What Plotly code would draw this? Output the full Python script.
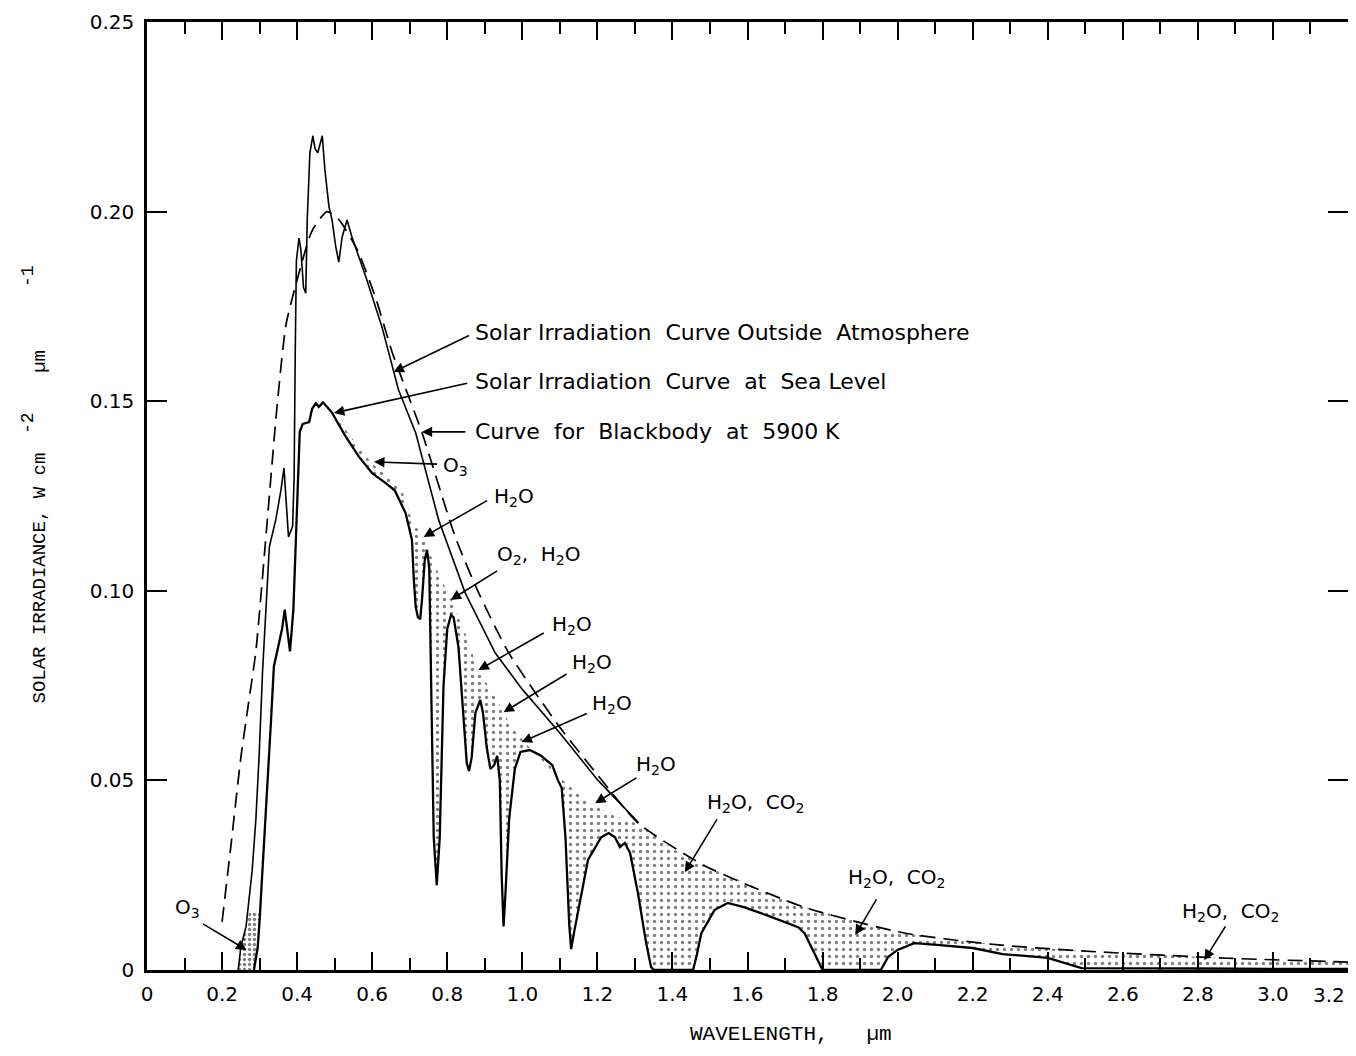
import numpy as np
import plotly.graph_objects as go

# ---------------------------------------------------------------------------
# Data (wavelength um, irradiance W cm-2 um-1)
# ---------------------------------------------------------------------------
bb_x = [0.20, 0.225, 0.25, 0.27, 0.29, 0.32, 0.345, 0.37, 0.40, 0.44, 0.48, 0.51,
        0.56, 0.61, 0.653, 0.733, 0.822, 0.884, 0.964, 1.10, 1.20, 1.308, 1.486,
        1.75, 2.02, 2.27, 2.53, 2.88, 3.20]
bb_y = [0.0127, 0.034, 0.056, 0.070, 0.084, 0.118, 0.147, 0.170, 0.182, 0.195, 0.200,
        0.198, 0.190, 0.177, 0.163, 0.1416, 0.114, 0.0994, 0.0836, 0.064, 0.0515,
        0.0388, 0.0275, 0.0166, 0.0097, 0.0066, 0.0048, 0.0031, 0.0021]

out_x = [0.243, 0.25, 0.264, 0.28, 0.29, 0.299, 0.308, 0.317, 0.326, 0.343, 0.357,
         0.365, 0.371, 0.377, 0.388, 0.392, 0.395, 0.398, 0.405, 0.41, 0.417, 0.423,
         0.427, 0.434, 0.442, 0.448, 0.455, 0.461, 0.467, 0.474, 0.485, 0.493, 0.503,
         0.511, 0.52, 0.533, 0.546, 0.583, 0.626, 0.67, 0.716, 0.777, 0.848, 0.928,
         1.00, 1.10, 1.20, 1.31]
out_y = [0.0, 0.006, 0.0115, 0.026, 0.0396, 0.057, 0.079, 0.0968, 0.1116, 0.1187,
         0.1266, 0.1324, 0.122, 0.1142, 0.117, 0.130, 0.163, 0.187, 0.193, 0.190,
         0.180, 0.1785, 0.198, 0.2155, 0.220, 0.2165, 0.2155, 0.218, 0.220, 0.211,
         0.2012, 0.1978, 0.1907, 0.1867, 0.1933, 0.1978, 0.1933, 0.1828, 0.1696,
         0.153, 0.1416, 0.1187, 0.0994, 0.0836, 0.074, 0.0625, 0.0502, 0.0388]

sea_x = [0.285, 0.295, 0.30, 0.31, 0.32, 0.33, 0.338, 0.35, 0.36, 0.367, 0.374, 0.381,
         0.39, 0.398, 0.403, 0.407, 0.415, 0.432, 0.44, 0.45, 0.458, 0.469, 0.48,
         0.493, 0.51, 0.53, 0.565, 0.60, 0.636, 0.66, 0.689, 0.706, 0.711, 0.716,
         0.722, 0.728, 0.733, 0.74, 0.746, 0.752, 0.758, 0.764, 0.772, 0.78, 0.79,
         0.80, 0.81, 0.817, 0.83, 0.843, 0.852, 0.858, 0.865, 0.875, 0.888, 0.895,
         0.905, 0.915, 0.925, 0.933, 0.94, 0.945, 0.95, 0.955, 0.965, 0.98, 0.995,
         1.02, 1.05, 1.08, 1.095, 1.105, 1.115, 1.125, 1.13, 1.138, 1.149, 1.175,
         1.21, 1.23, 1.247, 1.26, 1.273, 1.287, 1.308, 1.33, 1.343, 1.35, 1.455,
         1.465, 1.477, 1.512, 1.547, 1.59, 1.663, 1.735, 1.752, 1.778, 1.795, 1.80,
         1.955, 1.975, 2.00, 2.044, 2.105, 2.20, 2.28, 2.40, 2.49, 2.60, 2.80, 3.00,
         3.20]
sea_y = [0.0, 0.006, 0.013, 0.030, 0.045, 0.065, 0.080, 0.085, 0.090, 0.095, 0.090,
         0.084, 0.095, 0.115, 0.130, 0.142, 0.144, 0.1445, 0.148, 0.1495, 0.1485,
         0.1497, 0.1485, 0.147, 0.144, 0.1406, 0.1353, 0.131, 0.1284, 0.1265, 0.1205,
         0.1134, 0.1028, 0.0957, 0.093, 0.0925, 0.098, 0.108, 0.1108, 0.106, 0.070,
         0.035, 0.0224, 0.035, 0.075, 0.090, 0.0936, 0.093, 0.085, 0.068, 0.0546,
         0.0525, 0.056, 0.0678, 0.0712, 0.068, 0.0588, 0.053, 0.054, 0.0565, 0.050,
         0.025, 0.0115, 0.020, 0.040, 0.053, 0.0575, 0.058, 0.0565, 0.054, 0.050,
         0.048, 0.035, 0.012, 0.0055, 0.010, 0.0158, 0.029, 0.035, 0.0361, 0.035,
         0.0324, 0.0335, 0.0309, 0.0203, 0.0071, 0.0008, 0.0, 0.0, 0.004, 0.0097,
         0.0158, 0.0177, 0.0166, 0.014, 0.0113, 0.0097, 0.0045, 0.0008, 0.0, 0.0,
         0.0035, 0.0053, 0.0071, 0.0066, 0.0058, 0.0042, 0.0032, 0.0005, 0.0004,
         0.0004, 0.0003, 0.0003]

# upper edge of the dotted (absorption) region, before it joins the blackbody curve
env_x = [0.493, 0.53, 0.56, 0.60, 0.64, 0.68, 0.703, 0.742, 0.785, 0.808, 0.848,
         0.883, 0.928, 0.972, 1.008, 1.077, 1.18, 1.25, 1.31, 1.40, 1.486]
env_y = [0.147, 0.1425, 0.1385, 0.1335, 0.1305, 0.1265, 0.1195, 0.1126, 0.1028,
         0.0984, 0.0889, 0.0791, 0.072, 0.064, 0.0599, 0.0527, 0.044, 0.0405,
         0.0385, 0.032, 0.0275]

# small ozone patch near 0.25-0.3 um
o3_x = [0.243, 0.25, 0.264, 0.272, 0.30, 0.30, 0.295, 0.285]
o3_y = [0.0, 0.006, 0.0115, 0.015, 0.015, 0.013, 0.006, 0.0]

x_ticks = [round(0.2 * i, 1) for i in range(17)]
x_tick_text = ["0"] + [f"{v:.1f}" for v in x_ticks[1:-1]] + [""]   # 3.2 drawn separately
y_ticks = [0, 0.05, 0.10, 0.15, 0.20, 0.25]
y_tick_text = ["0", "0.05", "0.10", "0.15", "0.20", "0.25"]

NB = "\u00a0"
# labels: (text, x, y, size) left edge of text; arrows: (tail x, tail y, tip x, tip y)
curve_labels = [
    (f"Solar{NB}Irradiation{NB}{NB}Curve{NB}Outside{NB}{NB}Atmosphere", 0.871, 0.168, 22),
    (f"Solar{NB}Irradiation{NB}{NB}Curve{NB}{NB}at{NB}{NB}Sea{NB}Level", 0.871, 0.1553, 22),
    (f"Curve{NB}{NB}for{NB}{NB}Blackbody{NB}{NB}at{NB}{NB}5900{NB}K", 0.871, 0.1419, 22),
    ("O<sub>3</sub>", 0.785, 0.1329, 20),
    ("H<sub>2</sub>O", 0.923, 0.1247, 20),
    (f"O<sub>2</sub>,{NB}{NB}H<sub>2</sub>O", 0.931, 0.1094, 20),
    ("H<sub>2</sub>O", 1.077, 0.091, 20),
    ("H<sub>2</sub>O", 1.130, 0.081, 20),
    ("H<sub>2</sub>O", 1.183, 0.0701, 20),
    ("H<sub>2</sub>O", 1.300, 0.054, 20),
    (f"H<sub>2</sub>O,{NB}{NB}CO<sub>2</sub>", 1.489, 0.044, 20),
    (f"H<sub>2</sub>O,{NB}{NB}CO<sub>2</sub>", 1.866, 0.0243, 20),
    (f"H<sub>2</sub>O,{NB}{NB}CO<sub>2</sub>", 2.756, 0.0153, 20),
    ("O<sub>3</sub>", 0.073, 0.0164, 20),
]
arrows = [
    (0.862, 0.1675, 0.657, 0.1577),
    (0.857, 0.1548, 0.498, 0.1469),
    (0.852, 0.1419, 0.732, 0.1419),
    (0.777, 0.1334, 0.605, 0.1340),
    (0.910, 0.1240, 0.737, 0.1142),
    (0.937, 0.1055, 0.809, 0.0976),
    (1.061, 0.0891, 0.883, 0.0791),
    (1.122, 0.0783, 0.950, 0.0680),
    (1.176, 0.0678, 0.998, 0.0601),
    (1.308, 0.0509, 1.194, 0.0440),
    (1.521, 0.0401, 1.433, 0.0258),
    (1.946, 0.0190, 1.887, 0.0092),
    (2.876, 0.0119, 2.817, 0.0026),
    (0.145, 0.0124, 0.265, 0.0053),
]

DOTS = dict(shape=".", size=7, solidity=0.18, fgcolor="black", bgcolor="white")
TICK_FONT = dict(family="DejaVu Sans", size=20, color="black")
MONO = dict(family="Liberation Mono", size=19, color="black")

fig = go.Figure()

# dotted absorption region: sea-level curve (from 0.493) back along the upper edge
sx = np.array(sea_x)
sy = np.array(sea_y)
keep = sx >= env_x[0]
top_x = env_x + [v for v in bb_x if v > env_x[-1]]
top_y = env_y + [bb_y[i] for i, v in enumerate(bb_x) if v > env_x[-1]]
poly_x = list(sx[keep]) + top_x[::-1]
poly_y = list(sy[keep]) + top_y[::-1]
fig.add_trace(go.Scatter(x=poly_x, y=poly_y, fill="toself", fillcolor="white",
                         fillpattern=DOTS, mode="lines", line=dict(width=0),
                         hoverinfo="skip", showlegend=False))
fig.add_trace(go.Scatter(x=o3_x, y=o3_y, fill="toself", fillcolor="white",
                         fillpattern=dict(DOTS, size=5, solidity=0.35), mode="lines",
                         line=dict(width=0), hoverinfo="skip", showlegend=False))

fig.add_trace(go.Scatter(x=bb_x, y=bb_y, mode="lines", name="Blackbody 5900 K",
                         line=dict(color="black", width=1.7, dash="15px,8px",
                                   shape="spline", smoothing=0.6)))
fig.add_trace(go.Scatter(x=out_x, y=out_y, mode="lines", name="Outside atmosphere",
                         line=dict(color="black", width=1.6)))
fig.add_trace(go.Scatter(x=sea_x, y=sea_y, mode="lines", name="Sea level",
                         line=dict(color="black", width=2.3)))

for text, x, y, size in curve_labels:
    fig.add_annotation(x=x, y=y, text=text, showarrow=False, xanchor="left",
                       yanchor="middle", borderpad=0,
                       font=dict(family="DejaVu Sans", size=size, color="black"))
for tx, ty, hx, hy in arrows:
    fig.add_annotation(x=hx, y=hy, ax=tx, ay=ty, axref="x", ayref="y", text="",
                       showarrow=True, arrowhead=2, arrowsize=1.3, arrowwidth=1.6,
                       arrowcolor="black", standoff=0, startstandoff=0)

# last x tick label sits inside the frame, right aligned
fig.add_annotation(x=3.2, y=0, xref="x", yref="paper", yshift=-12, xshift=-2,
                   text="3.2", showarrow=False, xanchor="right", yanchor="top",
                   borderpad=0, font=TICK_FONT)

# axis titles (typewriter face); the raised exponents are typed separately
fig.add_annotation(xref="paper", yref="paper", x=0.536, y=-0.0685, showarrow=False,
                   text=f"WAVELENGTH,{NB}{NB}{NB}\u00b5m", xanchor="center",
                   yanchor="middle", font=dict(MONO, size=21))
fig.add_annotation(xref="paper", yref="paper", x=-0.0891, y=0.2795, showarrow=False,
                   textangle=-90, xanchor="center", yanchor="bottom",
                   text=f"SOLAR{NB}IRRADIANCE,{NB}W{NB}cm" + NB * 7 + "\u00b5m",
                   font=MONO)
for sup_text, sup_y in [("-2", 0.577), ("-1", 0.732)]:
    fig.add_annotation(xref="paper", yref="paper", x=-0.0991, y=sup_y,
                       showarrow=False, textangle=-90, xanchor="center",
                       yanchor="middle", text=sup_text, font=dict(MONO, size=18))

# page has an 8px body margin, so the figure is sized to fit the window
fig.update_layout(
    width=1340, height=1040,
    margin=dict(l=139, r=0, t=14, b=78),
    plot_bgcolor="white", paper_bgcolor="white",
    showlegend=False,
    font=dict(family="DejaVu Sans", color="black"),
)
fig.update_xaxes(
    range=[0, 3.2], tickvals=x_ticks, ticktext=x_tick_text,
    ticks="inside", ticklen=18, tickwidth=2, tickcolor="black",
    minor=dict(dtick=0.1, tick0=0, ticks="inside", ticklen=12, tickwidth=2,
               tickcolor="black"),
    showline=True, linewidth=2.5, linecolor="black", mirror="allticks",
    showgrid=False, zeroline=False, automargin=False,
    tickfont=TICK_FONT, ticklabelstandoff=4,
)
fig.update_yaxes(
    range=[0, 0.25], tickvals=y_ticks, ticktext=y_tick_text,
    ticks="inside", ticklen=20, tickwidth=2, tickcolor="black",
    showline=True, linewidth=2.5, linecolor="black", mirror="allticks",
    showgrid=False, zeroline=False, automargin=False,
    tickfont=TICK_FONT, ticklabelstandoff=6,
)

fig.write_html("out.html")
